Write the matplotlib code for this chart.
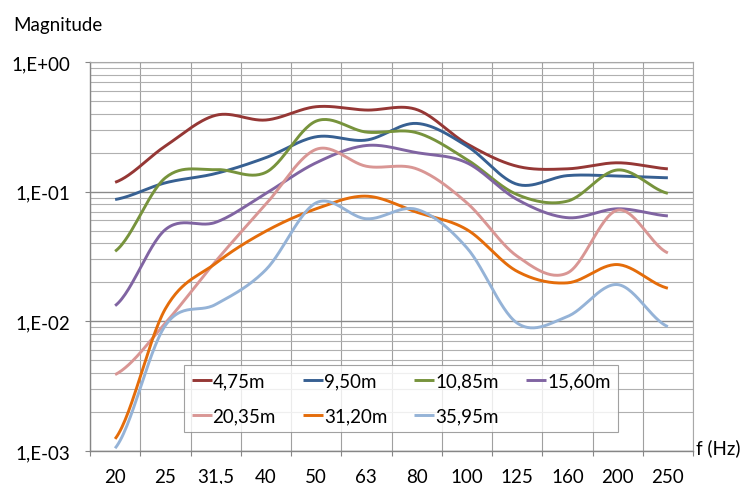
import numpy as np
import matplotlib
matplotlib.use("Agg")
import matplotlib.pyplot as plt
from matplotlib.ticker import FixedLocator, NullFormatter

plt.rcParams['font.family'] = ['Lato', 'DejaVu Sans']

categories = ["20", "25", "31,5", "40", "50", "63", "80", "100", "125", "160", "200", "250"]

s_475 = [0.118, 0.225, 0.388, 0.357, 0.452, 0.426, 0.430, 0.234, 0.157, 0.150, 0.167, 0.150]
s_950 = [0.087, 0.117, 0.138, 0.183, 0.265, 0.250, 0.336, 0.225, 0.114, 0.133, 0.132, 0.128]
s_1085 = [0.0347, 0.128, 0.148, 0.141, 0.350, 0.288, 0.285, 0.177, 0.095, 0.0845, 0.147, 0.097]
s_1560 = [0.0132, 0.051, 0.058, 0.097, 0.167, 0.227, 0.200, 0.167, 0.087, 0.063, 0.0738, 0.065]
s_2035 = [0.00388, 0.0097, 0.029, 0.080, 0.212, 0.157, 0.150, 0.082, 0.0318, 0.0236, 0.072, 0.0337]
s_3120 = [0.00124, 0.0125, 0.028, 0.0496, 0.0738, 0.0923, 0.0695, 0.051, 0.0243, 0.0198, 0.0274, 0.018]
s_3595 = [0.00105, 0.0093, 0.0135, 0.025, 0.082, 0.0618, 0.073, 0.0369, 0.0097, 0.0109, 0.0192, 0.0091]

labels = ["4,75m", "9,50m", "10,85m", "15,60m", "20,35m", "31,20m", "35,95m"]
series = [s_475, s_950, s_1085, s_1560, s_2035, s_3120, s_3595]
colors = ["#953735", "#376092", "#77933C", "#8064A2", "#D99694", "#E46C0A", "#95B3D7"]

yticks = [1e-3, 1e-2, 1e-1, 1e0]
ytick_labels = ["1,E-03", "1,E-02", "1,E-01", "1,E+00"]

FS = 13.5


def smooth(vals, n=30):
    """Catmull-Rom smoothing in log space (like Excel smoothed lines)."""
    p = np.log10(np.asarray(vals, dtype=float))
    k = len(p)
    xs, ys = [], []
    for i in range(k - 1):
        p0 = p[i - 1] if i > 0 else p[i]
        p1, p2 = p[i], p[i + 1]
        p3 = p[i + 2] if i + 2 < k else p[i + 1]
        m1 = (p2 - p0) / 2.0
        m2 = (p3 - p1) / 2.0
        t = np.linspace(0, 1, n, endpoint=(i == k - 2))
        h00 = 2 * t**3 - 3 * t**2 + 1
        h10 = t**3 - 2 * t**2 + t
        h01 = -2 * t**3 + 3 * t**2
        h11 = t**3 - t**2
        xs.append(i + t)
        ys.append(h00 * p1 + h10 * m1 + h01 * p2 + h11 * m2)
    return np.concatenate(xs), 10 ** np.concatenate(ys)


fig = plt.figure(figsize=(7.42, 4.85), dpi=100)
ax = fig.add_axes([90 / 742, 1 - 452 / 485, 603 / 742, 389 / 485])

ax.set_yscale("log")
ax.set_ylim(1e-3, 1e0)
ax.set_xlim(-0.5, len(categories) - 0.5)

handles = []
for vals, lab, col in zip(series, labels, colors):
    x, y = smooth(vals)
    h, = ax.plot(x, y, color=col, lw=2.1, label=lab, solid_capstyle="butt", zorder=3)
    handles.append(h)

# axes styling
ax.yaxis.set_major_locator(FixedLocator(yticks))
ax.set_yticklabels(ytick_labels)
ax.yaxis.set_minor_locator(FixedLocator([m * 10.0**e for e in range(-3, 0) for m in range(2, 10)]))
ax.yaxis.set_minor_formatter(NullFormatter())
ax.tick_params(axis="y", which="minor", length=0)
ax.tick_params(axis="y", which="major", length=3.6, width=0.8, color="#868686", labelsize=FS, pad=10.5)

ax.set_xticks(np.arange(len(categories)))
ax.set_xticklabels(categories)
ax.tick_params(axis="x", which="major", length=0, labelsize=FS, pad=12)
ax.set_xticks(np.arange(len(categories) + 1) - 0.5, minor=True)
ax.tick_params(axis="x", which="minor", length=3.6, width=0.8, color="#868686")

ax.grid(True, which="major", axis="y", color="#8a8a8a", lw=1.0, zorder=0)
ax.grid(True, which="minor", axis="y", color="#b0b0b0", lw=0.8, zorder=0)
ax.grid(True, which="minor", axis="x", color="#a0a0a0", lw=0.8, zorder=0)
ax.set_axisbelow(True)

for sp in ["left", "bottom"]:
    ax.spines[sp].set_color("#868686")
    ax.spines[sp].set_linewidth(1.0)
for sp in ["top", "right"]:
    ax.spines[sp].set_color("#a8a8a8")
    ax.spines[sp].set_linewidth(0.8)

fig.text(13 / 742, 1 - 26 / 485, "Magnitude", fontsize=FS, va="center", ha="left")
fig.text(696 / 742, 1 - 448 / 485, "f (Hz)", fontsize=FS, va="center", ha="left")

order = [0, 4, 1, 5, 2, 6, 3]
leg = ax.legend([handles[i] for i in order], [labels[i] for i in order],
                ncol=4, loc="lower left",
                bbox_to_anchor=((184 - 90) / 603, (452 - 433) / 389, (618 - 184) / 603, (433 - 367) / 389),
                mode="expand", fontsize=FS, frameon=True, fancybox=False,
                handlelength=1.07, handletextpad=0.05, labelspacing=0.95,
                borderaxespad=0, borderpad=0.4, columnspacing=0.5)
leg.get_frame().set_edgecolor("#8a8a8a")
leg.get_frame().set_linewidth(0.8)
leg.set_zorder(5)

fig.savefig("out.png", dpi=100, facecolor="white")
